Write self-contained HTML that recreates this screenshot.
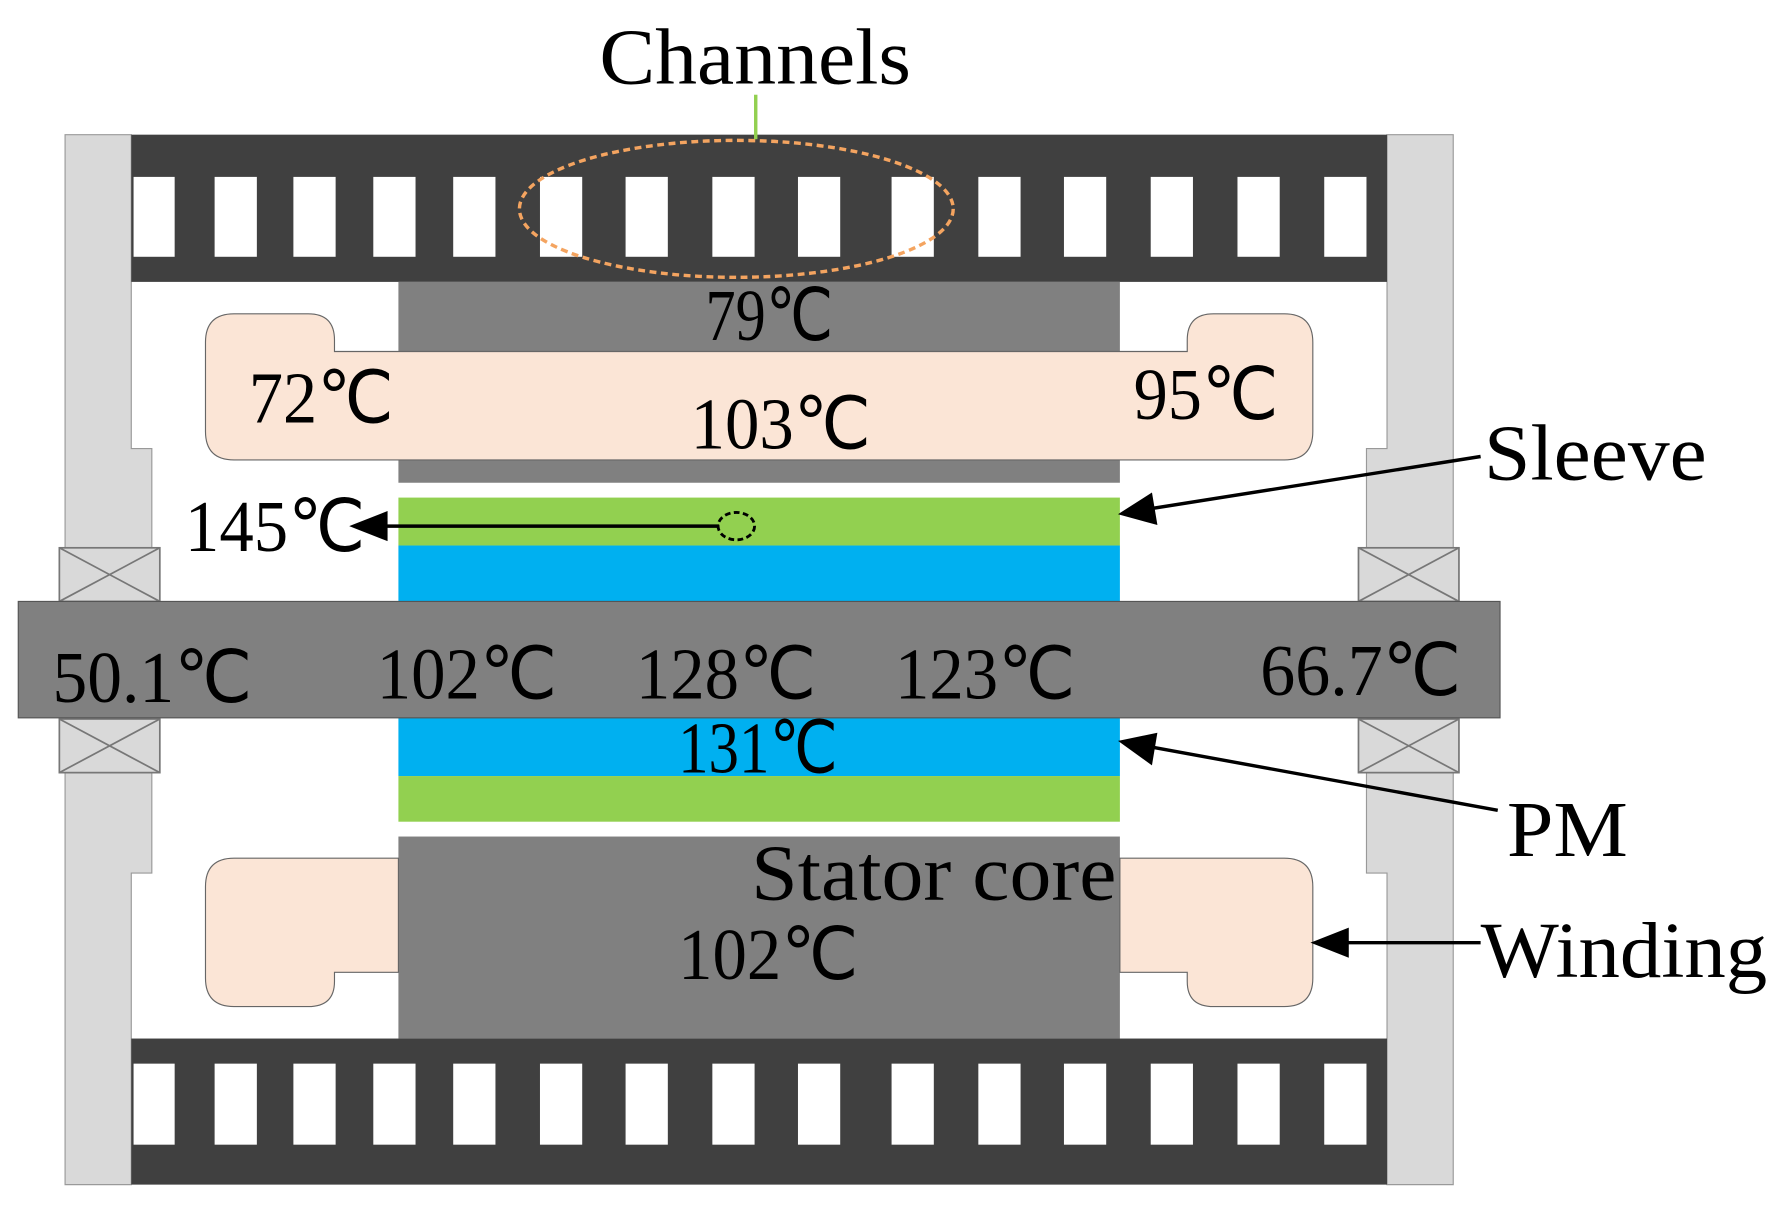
<!DOCTYPE html>
<html><head><style>html,body{margin:0;padding:0;background:#fff}svg{display:block}</style></head>
<body>
<svg width="1790" height="1220" viewBox="0 0 1568 1069" preserveAspectRatio="none" xmlns="http://www.w3.org/2000/svg" font-family="Liberation Serif, serif">
<path d="M57,118 H115 V393 H133 V480 H57 Z M57,677 H133 V765 H115 V1038 H57 Z" fill="#d9d9d9" stroke="#999" stroke-width="1"/>
<path d="M1273,118 H1215 V393 H1197 V480 H1273 Z M1273,677 H1197 V765 H1215 V1038 H1273 Z" fill="#d9d9d9" stroke="#999" stroke-width="1"/>
<rect x="57" y="480" width="76" height="197" fill="#d9d9d9"/>
<rect x="1197" y="480" width="76" height="197" fill="#d9d9d9"/>
<g fill="#d9d9d9" stroke="#777" stroke-width="1.5">
<rect x="52" y="480" width="88" height="47"/><path d="M52,480 L140,527 M140,480 L52,527"/>
<rect x="52" y="630" width="88" height="47"/><path d="M52,630 L140,677 M140,630 L52,677"/>
<rect x="1190" y="480" width="88" height="47"/><path d="M1190,480 L1278,527 M1278,480 L1190,527"/>
<rect x="1190" y="630" width="88" height="47"/><path d="M1190,630 L1278,677 M1278,630 L1190,677"/>
</g>
<rect x="115" y="118" width="1100" height="129" fill="#404040"/>
<rect x="115" y="910" width="1100" height="128" fill="#404040"/>
<g fill="#fff">
<rect x="117" y="155" width="36" height="70"/><rect x="188" y="155" width="37" height="70"/><rect x="257" y="155" width="37" height="70"/><rect x="327" y="155" width="37" height="70"/><rect x="397" y="155" width="37" height="70"/><rect x="473" y="155" width="37" height="70"/><rect x="548" y="155" width="37" height="70"/><rect x="624" y="155" width="37" height="70"/><rect x="699" y="155" width="37" height="70"/><rect x="781" y="155" width="37" height="70"/><rect x="857" y="155" width="37" height="70"/><rect x="932" y="155" width="37" height="70"/><rect x="1008" y="155" width="37" height="70"/><rect x="1084" y="155" width="37" height="70"/><rect x="1160" y="155" width="37" height="70"/>
<rect x="117" y="932" width="36" height="71"/><rect x="188" y="932" width="37" height="71"/><rect x="257" y="932" width="37" height="71"/><rect x="327" y="932" width="37" height="71"/><rect x="397" y="932" width="37" height="71"/><rect x="473" y="932" width="37" height="71"/><rect x="548" y="932" width="37" height="71"/><rect x="624" y="932" width="37" height="71"/><rect x="699" y="932" width="37" height="71"/><rect x="781" y="932" width="37" height="71"/><rect x="857" y="932" width="37" height="71"/><rect x="932" y="932" width="37" height="71"/><rect x="1008" y="932" width="37" height="71"/><rect x="1084" y="932" width="37" height="71"/><rect x="1160" y="932" width="37" height="71"/>
</g>
<rect x="349" y="247" width="632" height="176" fill="#808080"/>
<rect x="349" y="733" width="632" height="177" fill="#808080"/>
<path d="M205,275 H270 Q293,275 293,298 V308 H1040 V298 Q1040,275 1063,275 H1125 Q1150,275 1150,300 V378 Q1150,403 1125,403 H205 Q180,403 180,378 V300 Q180,275 205,275 Z" fill="#fbe5d6" stroke="#666" stroke-width="1"/>
<path d="M349,752 H205 Q180,752 180,777 V857 Q180,882 205,882 H270 Q293,882 293,860 V852 H349 Z" fill="#fbe5d6" stroke="#666" stroke-width="1"/>
<path d="M981,752 H1125 Q1150,752 1150,777 V857 Q1150,882 1125,882 H1063 Q1040,882 1040,860 V852 H981 Z" fill="#fbe5d6" stroke="#666" stroke-width="1"/>
<rect x="349" y="436" width="632" height="42" fill="#92d050"/>
<rect x="349" y="478" width="632" height="49" fill="#00b0f0"/>
<rect x="349" y="629" width="632" height="51" fill="#00b0f0"/>
<rect x="349" y="680" width="632" height="40" fill="#92d050"/>
<rect x="16" y="527" width="1298" height="102" fill="#808080" stroke="#555" stroke-width="1"/>
<ellipse cx="645" cy="183" rx="190" ry="60" fill="none" stroke="#f4a460" stroke-width="3" stroke-dasharray="6,4"/>
<line x1="662" y1="83" x2="662" y2="122" stroke="#92d050" stroke-width="3"/>
<ellipse cx="645" cy="461" rx="16" ry="12" fill="none" stroke="#000" stroke-width="2.5" stroke-dasharray="5,3"/>
<g stroke="#000" stroke-width="3" fill="#000">
<line x1="630" y1="461" x2="325" y2="461"/><path d="M310,461 L338,450 L338,472 Z"/>
<line x1="1297" y1="400" x2="1000" y2="447"/><path d="M983,450 L1008,434 L1012,458 Z"/>
<line x1="1312" y1="710" x2="1000" y2="653"/><path d="M983,650 L1012,644 L1008,668 Z"/>
<line x1="1297" y1="826" x2="1170" y2="826"/><path d="M1152,826 L1180,815 L1180,837 Z"/>
</g>
<g font-size="70" fill="#000" lengthAdjust="spacingAndGlyphs">
<text x="525" y="73" textLength="273" lengthAdjust="spacingAndGlyphs">Channels</text>
<text x="1300" y="420" textLength="195" lengthAdjust="spacingAndGlyphs">Sleeve</text>
<text x="1320" y="750" textLength="106" lengthAdjust="spacingAndGlyphs">PM</text>
<text x="1297" y="856" textLength="251" lengthAdjust="spacingAndGlyphs">Winding</text>
<text x="658" y="788" textLength="320" lengthAdjust="spacingAndGlyphs">Stator core</text>
</g>
<g font-size="64" fill="#000">
<text x="618" y="298" textLength="112" lengthAdjust="spacingAndGlyphs">79℃</text>
<text x="218" y="370" textLength="127" lengthAdjust="spacingAndGlyphs">72℃</text>
<text x="605" y="393" textLength="158" lengthAdjust="spacingAndGlyphs">103℃</text>
<text x="993" y="367" textLength="127" lengthAdjust="spacingAndGlyphs">95℃</text>
<text x="162" y="483" textLength="158" lengthAdjust="spacingAndGlyphs">145℃</text>
<text x="46" y="615" textLength="175" lengthAdjust="spacingAndGlyphs">50.1℃</text>
<text x="330" y="612" textLength="158" lengthAdjust="spacingAndGlyphs">102℃</text>
<text x="557" y="612" textLength="158" lengthAdjust="spacingAndGlyphs">128℃</text>
<text x="784" y="612" textLength="158" lengthAdjust="spacingAndGlyphs">123℃</text>
<text x="1104" y="609" textLength="176" lengthAdjust="spacingAndGlyphs">66.7℃</text>
<text x="594" y="677" textLength="140" lengthAdjust="spacingAndGlyphs">131℃</text>
<text x="594" y="858" textLength="158" lengthAdjust="spacingAndGlyphs">102℃</text>
</g>
</svg>
</body></html>
